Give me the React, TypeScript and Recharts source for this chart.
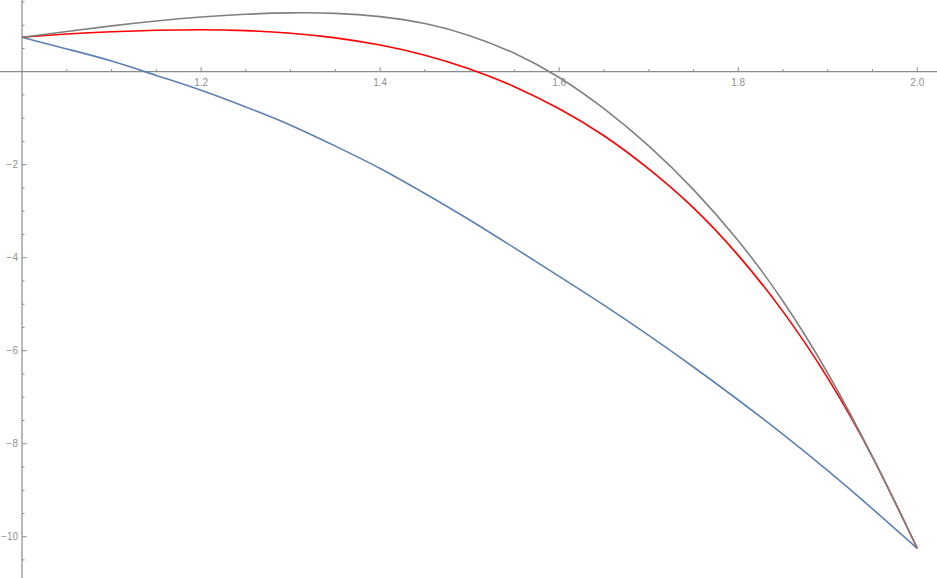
import React from "react";
import {
  ComposedChart,
  Line,
  XAxis,
  YAxis,
  ReferenceLine,
  ReferenceDot,
} from "recharts";

// sample positions along x, every 0.05
const xs = [
  1.0, 1.05, 1.1, 1.15, 1.2, 1.25, 1.3, 1.35, 1.4, 1.45, 1.5, 1.55, 1.6, 1.65,
  1.7, 1.75, 1.8, 1.85, 1.9, 1.95, 2.0,
];
const blueValues = [
  0.74, 0.49, 0.23, -0.08, -0.4, -0.76, -1.15, -1.6, -2.08, -2.62, -3.19, -3.79,
  -4.4, -5.02, -5.67, -6.35, -7.06, -7.8, -8.58, -9.4, -10.25,
];
const redValues = [
  0.74, 0.81, 0.86, 0.89, 0.903, 0.883, 0.828, 0.728, 0.573, 0.353, 0.058,
  -0.322, -0.797, -1.377, -2.09, -2.93, -3.95, -5.16, -6.59, -8.29, -10.25,
];
const grayValues = [
  0.74, 0.865, 0.985, 1.09, 1.175, 1.235, 1.265, 1.255, 1.185, 1.035, 0.775,
  0.395, -0.125, -0.795, -1.595, -2.535, -3.635, -4.935, -6.485, -8.285,
  -10.25,
];

const xMajorTicks = [1.2, 1.4, 1.6, 1.8, 2.0];
const xMajorLabels = ["1.2", "1.4", "1.6", "1.8", "2.0"];
const xMinorTicks = [
  1.05, 1.1, 1.15, 1.25, 1.3, 1.35, 1.45, 1.5, 1.55, 1.65, 1.7, 1.75, 1.85, 1.9,
  1.95,
];
const yMajorTicks = [-2, -4, -6, -8, -10];
const yMajorLabels = ["−2", "−4", "−6", "−8", "−10"];
const yMinorTicks = [
  1.5, 1, 0.5, -0.5, -1, -1.5, -2.5, -3, -3.5, -4.5, -5, -5.5, -6.5, -7, -7.5,
  -8.5, -9, -9.5, -10.5,
];

const data = xs.map((x, i) => ({
  x,
  blue: blueValues[i],
  red: redValues[i],
  gray: grayValues[i],
}));

const AXIS = "#8a8a8a";
const LABEL = "#8f8f8f";
const FONT = "'Liberation Sans', Arial, sans-serif";

interface DotProps {
  cx?: number;
  cy?: number;
}

const xTickShape = (len: number, label?: string) => (p: DotProps) => {
  const cx = p.cx ?? 0;
  const cy = p.cy ?? 0;
  return (
    <g>
      <line x1={cx} y1={cy} x2={cx} y2={cy - len} stroke={AXIS} strokeWidth={1} />
      {label && (
        <text
          x={cx}
          y={cy + 14}
          textAnchor="middle"
          fontSize={10}
          fontFamily={FONT}
          fill={LABEL}
        >
          {label}
        </text>
      )}
    </g>
  );
};

const yTickShape = (len: number, label?: string) => (p: DotProps) => {
  const cx = p.cx ?? 0;
  const cy = p.cy ?? 0;
  return (
    <g>
      <line x1={cx} y1={cy} x2={cx + len} y2={cy} stroke={AXIS} strokeWidth={1} />
      {label && (
        <text
          x={cx - 4}
          y={cy + 3.5}
          textAnchor="end"
          fontSize={10}
          fontFamily={FONT}
          fill={LABEL}
        >
          {label}
        </text>
      )}
    </g>
  );
};

export default function App() {
  return (
    <div style={{ position: "absolute", left: 0, top: 0, background: "#fff" }}>
      <ComposedChart
        width={937}
        height={578}
        data={data}
        margin={{ top: 0, right: 0, bottom: 0, left: 0 }}
      >
        <XAxis
          type="number"
          dataKey="x"
          domain={[0.9754, 2.022]}
          allowDataOverflow
          hide
        />
        <YAxis type="number" domain={[-10.888, 1.542]} allowDataOverflow hide />

        <ReferenceLine y={0} stroke={AXIS} strokeWidth={1.2} />
        <ReferenceLine x={1} stroke={AXIS} strokeWidth={1.2} />

        {xMinorTicks.map((v) => (
          <ReferenceDot key={"xm" + v} x={v} y={0} shape={xTickShape(2.5)} />
        ))}
        {xMajorTicks.map((v, i) => (
          <ReferenceDot
            key={"xM" + v}
            x={v}
            y={0}
            shape={xTickShape(4.5, xMajorLabels[i])}
          />
        ))}
        {yMinorTicks.map((v) => (
          <ReferenceDot key={"ym" + v} x={1} y={v} shape={yTickShape(2.5)} />
        ))}
        {yMajorTicks.map((v, i) => (
          <ReferenceDot
            key={"yM" + v}
            x={1}
            y={v}
            shape={yTickShape(4.5, yMajorLabels[i])}
          />
        ))}

        <Line
          type="natural"
          dataKey="blue"
          stroke="#5e81b5"
          strokeWidth={1.6}
          dot={false}
          activeDot={false}
          isAnimationActive={false}
        />
        <Line
          type="natural"
          dataKey="red"
          stroke="#ff0000"
          strokeWidth={1.6}
          dot={false}
          activeDot={false}
          isAnimationActive={false}
        />
        <Line
          type="natural"
          dataKey="gray"
          stroke="#808080"
          strokeWidth={1.6}
          dot={false}
          activeDot={false}
          isAnimationActive={false}
        />
      </ComposedChart>
    </div>
  );
}
